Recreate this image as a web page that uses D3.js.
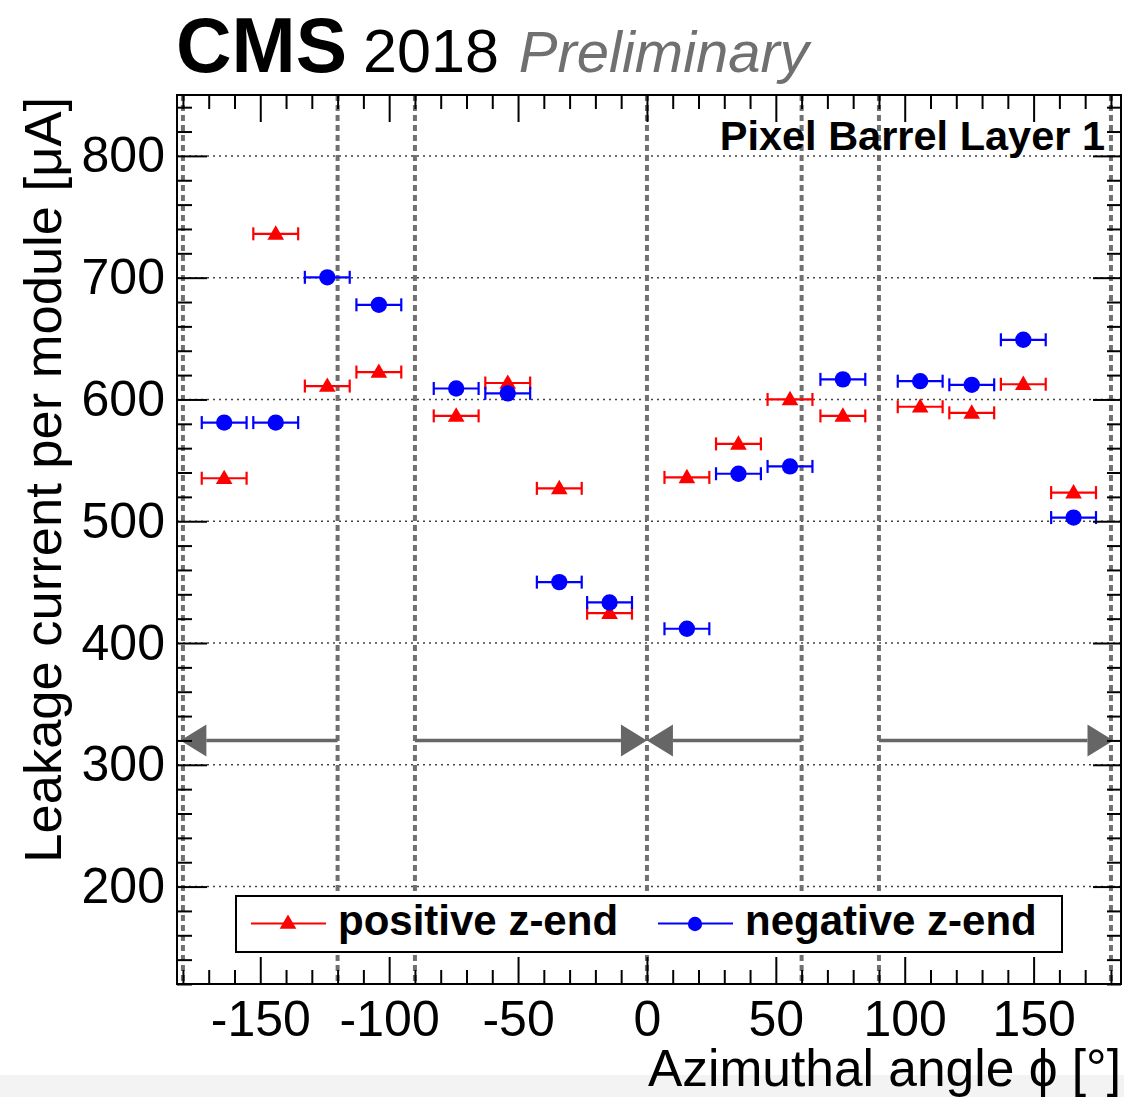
<!DOCTYPE html>
<html>
<head>
<meta charset="utf-8">
<script src="https://cdn.jsdelivr.net/npm/d3@7"></script>
<style>
  html, body { margin: 0; padding: 0; background: #fff; }
  svg { display: block; }
  text { font-family: "Liberation Sans", Arial, Helvetica, sans-serif; }
</style>
</head>
<body>
<svg id="chart" width="1124" height="1097"></svg>
<script>
// ---- data ----
const phi = [-164, -144, -124, -104, -74, -54, -34, -14.5, 15.5, 35.5, 55.5, 76, 106, 126, 146, 165.5];
const phiErr = 8.7;
const positiveZ = [535.3, 736, 611, 622.5, 586.5, 613.5, 527, 424.5, 536, 563.5, 600, 586.5, 594, 589, 612.5, 523.5];
const negativeZ = [581, 581, 700.3, 677.7, 609, 605, 450, 433.3, 411.7, 539, 545, 616.5, 615, 612, 649, 503];
const sectorLines = [-180, -120, -90, 0, 60, 90, 180];
const arrowFrom = [-120, -90, 60, 90];
const arrowTo = [-181, 0, 0, 181];
const arrowLevel = 320;
const xMajorTicks = [-150, -100, -50, 0, 50, 100, 150];
const yMajorTicks = [200, 300, 400, 500, 600, 700, 800];
const seriesNames = ["positive z-end", "negative z-end"];

// ---- layout ----
const L = 177, R = 1121, T = 95, B = 984;
const svg = d3.select("#chart");
svg.append("rect").attr("x", 0).attr("y", 1075).attr("width", 1124).attr("height", 22).attr("fill", "#f3f3f3");

const x = d3.scaleLinear().domain([-182.3, 183.9]).range([L, R]);
const y = d3.scaleLinear().domain([120, 850]).range([B, T]);
const fmt = v => String(v); // plain hyphen-minus like the original

// horizontal dotted grid
svg.append("g").selectAll("line").data(yMajorTicks).join("line")
  .attr("x1", L).attr("x2", R).attr("y1", d => y(d)).attr("y2", d => y(d))
  .attr("stroke", "#444").attr("stroke-width", 1.5).attr("stroke-dasharray", "2,4");

// vertical sector lines
svg.append("g").selectAll("line").data(sectorLines).join("line")
  .attr("x1", d => x(d)).attr("x2", d => x(d)).attr("y1", T).attr("y2", B)
  .attr("stroke", "#707070").attr("stroke-width", 4).attr("stroke-dasharray", "6,4");

// arrows
const ag = svg.append("g");
arrowFrom.forEach((f, i) => {
  const t = arrowTo[i];
  const dir = Math.sign(t - f);
  const tipX = x(t), baseX = tipX - dir * 26, yy = y(arrowLevel);
  ag.append("line").attr("x1", x(f)).attr("x2", baseX).attr("y1", yy).attr("y2", yy)
    .attr("stroke", "#666").attr("stroke-width", 3.5);
  ag.append("path").attr("d", `M${tipX},${yy} L${baseX},${yy - 16} L${baseX},${yy + 16} Z`).attr("fill", "#666");
});

// data
function drawSeries(vals, color, symbolType, size) {
  const g = svg.append("g");
  const d = phi.map((p, i) => ({ p, v: vals[i] }));
  g.selectAll("line.err").data(d).join("line").attr("class", "err")
    .attr("x1", e => x(e.p - phiErr)).attr("x2", e => x(e.p + phiErr))
    .attr("y1", e => y(e.v)).attr("y2", e => y(e.v))
    .attr("stroke", color).attr("stroke-width", 2.2);
  g.selectAll("line.capl").data(d).join("line").attr("class", "capl")
    .attr("x1", e => x(e.p - phiErr)).attr("x2", e => x(e.p - phiErr))
    .attr("y1", e => y(e.v) - 6.5).attr("y2", e => y(e.v) + 6.5)
    .attr("stroke", color).attr("stroke-width", 2.2);
  g.selectAll("line.capr").data(d).join("line").attr("class", "capr")
    .attr("x1", e => x(e.p + phiErr)).attr("x2", e => x(e.p + phiErr))
    .attr("y1", e => y(e.v) - 6.5).attr("y2", e => y(e.v) + 6.5)
    .attr("stroke", color).attr("stroke-width", 2.2);
  g.selectAll("path").data(d).join("path")
    .attr("d", d3.symbol().type(symbolType).size(size))
    .attr("transform", e => `translate(${x(e.p)},${y(e.v) + (symbolType === d3.symbolTriangle ? 1 : 0)})`)
    .attr("fill", color);
}
drawSeries(positiveZ, "#ff0000", d3.symbolTriangle, 120);
drawSeries(negativeZ, "#0000ff", d3.symbolCircle, 210);

// legend
const lg = svg.append("g");
lg.append("rect").attr("x", 236).attr("y", 896).attr("width", 826).attr("height", 56)
  .attr("fill", "#fff").attr("stroke", "#000").attr("stroke-width", 2);
const legendItems = [
  { name: seriesNames[0], color: "#ff0000", type: d3.symbolTriangle, size: 120, x0: 251 },
  { name: seriesNames[1], color: "#0000ff", type: d3.symbolCircle, size: 160, x0: 658 }
];
legendItems.forEach(it => {
  lg.append("line").attr("x1", it.x0).attr("x2", it.x0 + 75).attr("y1", 923.5).attr("y2", 923.5)
    .attr("stroke", it.color).attr("stroke-width", 2);
  lg.append("path").attr("d", d3.symbol().type(it.type).size(it.size)())
    .attr("transform", `translate(${it.x0 + 37},${924})`).attr("fill", it.color);
  lg.append("text").attr("x", it.x0 + 87).attr("y", 935).attr("font-size", 42).attr("font-weight", "bold")
    .attr("fill", "#000").text(it.name);
});

// axes
function styleAxis(g) {
  g.select(".domain").remove();
  g.selectAll(".tick line").attr("stroke", "#000").attr("stroke-width", 2);
  g.selectAll(".tick text").attr("font-family", "'Liberation Sans', Arial, sans-serif").attr("font-size", 50).attr("fill", "#000");
}
const xMinor = d3.range(-180, 181, 10).filter(v => !xMajorTicks.includes(v));
const yMinor = d3.range(120, 850, 20).filter(v => !yMajorTicks.includes(v));

svg.append("g").attr("transform", `translate(0,${B})`)
  .call(d3.axisBottom(x).tickValues(xMajorTicks).tickSize(-27).tickPadding(16).tickFormat(fmt))
  .call(styleAxis);
svg.append("g").attr("transform", `translate(0,${B})`)
  .call(d3.axisBottom(x).tickValues(xMinor).tickSize(-14).tickFormat("")).call(styleAxis);
svg.append("g").attr("transform", `translate(0,${T})`)
  .call(d3.axisTop(x).tickValues(xMajorTicks).tickSize(-27).tickFormat("")).call(styleAxis);
svg.append("g").attr("transform", `translate(0,${T})`)
  .call(d3.axisTop(x).tickValues(xMinor).tickSize(-14).tickFormat("")).call(styleAxis);

svg.append("g").attr("transform", `translate(${L},0)`)
  .call(d3.axisLeft(y).tickValues(yMajorTicks).tickSize(-30).tickPadding(12).tickFormat(fmt))
  .call(styleAxis);
svg.append("g").attr("transform", `translate(${L},0)`)
  .call(d3.axisLeft(y).tickValues(yMinor).tickSize(-15).tickFormat("")).call(styleAxis);
svg.append("g").attr("transform", `translate(${R},0)`)
  .call(d3.axisRight(y).tickValues(yMajorTicks).tickSize(-28).tickFormat("")).call(styleAxis);
svg.append("g").attr("transform", `translate(${R},0)`)
  .call(d3.axisRight(y).tickValues(yMinor).tickSize(-14).tickFormat("")).call(styleAxis);

// frame
svg.append("rect").attr("x", L).attr("y", T).attr("width", R - L).attr("height", B - T)
  .attr("fill", "none").attr("stroke", "#000").attr("stroke-width", 2);

// titles
svg.append("text").attr("x", R).attr("y", 1086).attr("text-anchor", "end")
  .attr("font-size", 51.5).attr("fill", "#000").text("Azimuthal angle \u03D5 [°]");
svg.append("text").attr("transform", "translate(61,97) rotate(-90)").attr("text-anchor", "end")
  .attr("font-size", 52.5).attr("fill", "#000").text("Leakage current per module [μA]");

svg.append("text").attr("x", 1105).attr("y", 150).attr("text-anchor", "end")
  .attr("font-size", 41.5).attr("font-weight", "bold").attr("fill", "#000").text("Pixel Barrel Layer 1");

const hdr = svg.append("text").attr("x", 176).attr("y", 72);
hdr.append("tspan").attr("font-size", 77).attr("font-weight", "bold").attr("fill", "#000").text("CMS");
hdr.append("tspan").attr("dx", 16).attr("font-size", 61).attr("fill", "#000").text("2018");
hdr.append("tspan").attr("dx", 20).attr("font-size", 58).attr("font-style", "italic").attr("fill", "#707070").text("Preliminary");
</script>
</body>
</html>
